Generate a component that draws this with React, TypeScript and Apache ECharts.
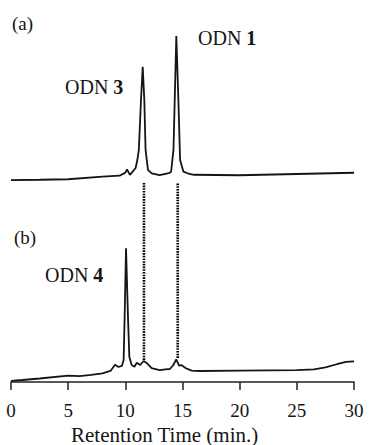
import React, { useEffect, useRef } from "react";
import * as echarts from "echarts";

// Trace (a): retention time (min) and detector signal (arbitrary units)
const timeA = [0, 2.5, 5, 8, 9.5, 10.0, 10.15, 10.4, 10.9, 11.05, 11.18, 11.37, 11.52, 11.66, 11.77, 11.98, 12.3, 13.0, 13.8, 14.0, 14.21, 14.32, 14.46, 14.64, 14.79, 15.08, 15.5, 16, 20, 25, 30];
const signalA = [3.2, 3.4, 3.7, 5.4, 6.0, 8.0, 10.1, 6.5, 11.0, 16.1, 22.6, 54.8, 76.3, 54.8, 22.6, 9.7, 7.5, 6.3, 7.7, 8.4, 22.6, 54.8, 96.1, 54.8, 16.1, 8.6, 7.4, 6.6, 6.3, 7.1, 7.9];

// Trace (b)
const timeB = [0, 1, 2.5, 5, 6, 7, 8, 8.7, 9.1, 9.4, 9.7, 9.85, 9.94, 10.06, 10.23, 10.35, 10.55, 10.8, 11.0, 11.3, 11.6, 11.9, 12.3, 13.0, 13.5, 13.9, 14.2, 14.45, 14.7, 14.9, 15.3, 15.8, 16.5, 20, 25, 26.5, 27.5, 28.5, 29.3, 30];
const signalB = [0.7, 1.3, 2.3, 4.1, 3.9, 4.6, 5.7, 7.2, 11.3, 9.8, 10.5, 14.4, 42.7, 87.4, 42.7, 16.5, 11.1, 10.0, 12.6, 11.1, 13.7, 12.2, 9.1, 7.8, 8.3, 8.5, 11.1, 14.8, 10.7, 11.1, 9.0, 7.4, 7.2, 7.4, 7.8, 8.3, 9.5, 11.6, 13.1, 13.5];

// Dotted connectors between the traces (retention times of ODN 3 and ODN 1)
const markerTimes = [11.63, 14.58];
const markerFrom = [14.4, 15.7];
const markerTo = 130;

const xMin = 0;
const xMax = 30;
const xInterval = 5;

const FONT = "Liberation Serif";
const INK = "#151515";

export default function App() {
  const ref = useRef<HTMLDivElement>(null);
  useEffect(() => {
    if (!ref.current) return;
    const chart = echarts.init(ref.current, undefined, { renderer: "svg" });
    const lineA = timeA.map((t, i) => [t, signalA[i]]);
    const lineB = timeB.map((t, i) => [t, signalB[i]]);
    const markers = markerTimes.map((t, i) => ({
      type: "line",
      xAxisIndex: 1,
      yAxisIndex: 1,
      data: [[t, markerFrom[i]], [t, markerTo]],
      showSymbol: false,
      silent: true,
      lineStyle: { color: "#000", width: 2.6, type: [1.6, 1.1] },
      z: 1,
    }));
    const label = (num: string) => ({
      text: `{n|ODN }{b|${num}}`,
      rich: {
        n: { fontFamily: FONT, fontSize: 20, fill: INK },
        b: { fontFamily: FONT, fontSize: 20, fontWeight: "bold", fill: INK },
      },
    });
    chart.setOption({
      animation: false,
      backgroundColor: "#fff",
      grid: [
        { left: 11, right: 15, top: 30, height: 155 },
        { left: 11, right: 15, top: 30, height: 352 },
      ],
      xAxis: [
        { gridIndex: 0, type: "value", min: xMin, max: xMax, show: false },
        {
          gridIndex: 1,
          type: "value",
          min: xMin,
          max: xMax,
          interval: xInterval,
          splitLine: { show: false },
          axisLine: { show: true, lineStyle: { color: "#222", width: 1.5 } },
          axisTick: { show: true, length: 8, lineStyle: { color: "#222", width: 1.5 } },
          axisLabel: { fontFamily: FONT, fontSize: 19, color: INK, margin: 19 },
        },
      ],
      yAxis: [
        { gridIndex: 0, type: "value", min: 0, max: 100, show: false },
        { gridIndex: 1, type: "value", min: 0, max: 230, show: false },
      ],
      series: [
        {
          type: "line",
          xAxisIndex: 0,
          yAxisIndex: 0,
          data: lineA,
          showSymbol: false,
          lineStyle: { color: INK, width: 1.8 },
          z: 2,
        },
        {
          type: "line",
          xAxisIndex: 1,
          yAxisIndex: 1,
          data: lineB,
          showSymbol: false,
          lineStyle: { color: INK, width: 1.8 },
          z: 2,
        },
        ...markers,
      ],
      graphic: [
        { type: "text", left: 12, top: 14, style: { text: "(a)", fontFamily: FONT, fontSize: 19, fill: INK } },
        { type: "text", left: 14, top: 228, style: { text: "(b)", fontFamily: FONT, fontSize: 19, fill: INK } },
        { type: "text", left: 198, top: 28, style: label("1") },
        { type: "text", left: 65, top: 77, style: label("3") },
        { type: "text", left: 45, top: 265, style: label("4") },
        { type: "text", left: 71, top: 424, style: { text: "Retention Time (min.)", fontFamily: FONT, fontSize: 21, fill: INK } },
      ],
    });
    return () => chart.dispose();
  }, []);
  return <div ref={ref} style={{ position: "fixed", left: 0, top: 0, width: 369, height: 445 }} />;
}
